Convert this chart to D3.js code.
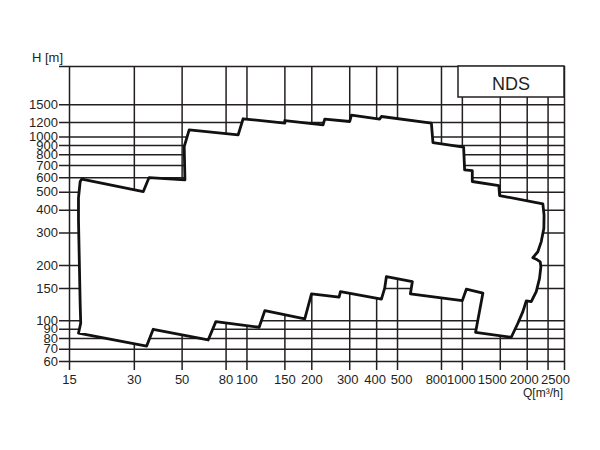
<!DOCTYPE html>
<html>
<head>
<meta charset="utf-8">
<script src="https://cdn.jsdelivr.net/npm/d3@7"></script>
<style>
  body { margin:0; background:#fff; }
  .chart text { font-family: "Liberation Sans", Arial, sans-serif; fill:#231f20; }
</style>
</head>
<body>
<div class="chart"></div>
<script>
// axis ticks (log-log chart)
const qTicks = [15,30,50,80,100,150,200,300,400,500,800,1000,1500,2000,2500];
const hTicks = [60,70,80,90,100,150,200,300,400,500,600,700,800,900,1000,1200,1500];
const qDomain = [15, 2980];
const hDomain = [53.6, 2420];

// operating envelope, clockwise from lower left corner
const envelopeQ = [16.6,17.0,16.9,16.6,16.6,16.9,17.2,33.2,35.3,51.8,51.4,54.2,91.5,96.5,150.7,150.7,
  226.8,230.9,301.6,307.1,415.6,423.2,721.9,734.2,1019,1030,1118,1118,1485,1497,
  2377,2408,2403,2337,2253,2136,2215,2312,2327,2294,2215,2100,1991,1920,1820,1696,
  1158,1252,1049,1005,576.8,589,446.3,438.3,423.2,273.2,
  269.1,200.4,186.5,121.7,114.5,72.1,66.4,36.9,34.4];
const envelopeH = [85.0,96.3,123.8,351.8,461.7,568.8,586,501.7,598,581,882,1088,1021,1249,1183,1222,
  1158,1244,1207,1308,1244,1285,1183,927,876,658,653,569,541,477,
  430,374,317,268,236,219,215,208,195,169,143,126.3,127.4,111.4,96.3,80.8,
  86.0,140.3,147.5,127.9,139.1,162.3,172.8,149.4,130.2,143.2,
  133.5,139.1,101.6,112.8,91.6,98.3,78.1,89.3,72.4];
const seriesName = 'NDS';

class EnvelopeChart
{
    constructor({wrapperClass,width,height})
    {
        this.margin = { top:66, left:69, right:36, bottom:80 };
        this.ink = '#231f20';
        this.svg = d3.select(`.${wrapperClass}`).append('svg')
            .attr('width',width)
            .attr('height',height);

        this.iW = width - this.margin.left - this.margin.right;
        this.iH = height - this.margin.top - this.margin.bottom;

        this.xScale = d3.scaleLog().domain(qDomain).range([0,this.iW]);
        this.yScale = d3.scaleLog().domain(hDomain).range([this.iH,0]);

        this.plot();
    }

    plot()
    {
        const graph = this.svg.append('g')
            .attr('transform',`translate(${this.margin.left},${this.margin.top})`);

        // vertical grid, right border included
        const xAxis = d3.axisBottom(this.xScale)
            .tickValues(qTicks.concat(qDomain[1]))
            .tickSize(-this.iH)
            .tickPadding(5)
            .tickFormat(d => qTicks.includes(d) ? d : '');

        // horizontal grid, top border included, ticks stick out 10px left
        const yAxis = d3.axisLeft(this.yScale)
            .tickValues(hTicks.concat(hDomain[1]))
            .tickSize(-(this.iW + 10))
            .tickPadding(1)
            .tickFormat(d => hTicks.includes(d) ? d : '');

        graph.append('g')
            .attr('class','x-axis')
            .attr('transform',`translate(0,${this.iH})`)
            .call(xAxis);

        graph.append('g')
            .attr('class','y-axis')
            .attr('transform','translate(-10,0)')
            .call(yAxis);

        graph.selectAll('.domain').remove();
        graph.selectAll('.tick line')
            .attr('stroke',this.ink)
            .attr('stroke-width',1.5);
        graph.selectAll('.tick text')
            .attr('font-size',13);

        // crowded labels are nudged apart like the printed sheet
        const nudge = {300:-2, 400:-1.5, 500:4, 800:-5, 1000:-1, 1500:-8, 2000:-3, 2500:7.5};
        graph.selectAll('.x-axis .tick text')
            .attr('dx', d => nudge[d] || 0);

        // envelope: white fill hides the grid inside
        const line = d3.line()
            .x(i => this.xScale(envelopeQ[i]))
            .y(i => this.yScale(envelopeH[i]))
            .curve(d3.curveLinearClosed);

        graph.append('path')
            .datum(d3.range(envelopeQ.length))
            .attr('d',line)
            .attr('fill','#fff')
            .attr('stroke','#111')
            .attr('stroke-width',2.8)
            .attr('stroke-linejoin','round');

        // series label box, top right
        const boxX = 389;
        graph.append('rect')
            .attr('x',boxX)
            .attr('y',0)
            .attr('width',this.iW - boxX)
            .attr('height',31)
            .attr('fill','#fff')
            .attr('stroke',this.ink)
            .attr('stroke-width',1.5);

        graph.append('text')
            .attr('x',boxX + (this.iW - boxX)/2)
            .attr('y',24)
            .attr('text-anchor','middle')
            .attr('font-size',18)
            .text(seriesName);

        // axis titles
        this.svg.append('text')
            .attr('x',32)
            .attr('y',62)
            .attr('font-size',13)
            .text('H [m]');

        this.svg.append('text')
            .attr('x',this.margin.left + this.iW - 1)
            .attr('y',397)
            .attr('text-anchor','end')
            .attr('font-size',12)
            .text('Q[m³/h]');
    }
}

new EnvelopeChart({wrapperClass:'chart', width:600, height:450});
</script>
</body>
</html>
